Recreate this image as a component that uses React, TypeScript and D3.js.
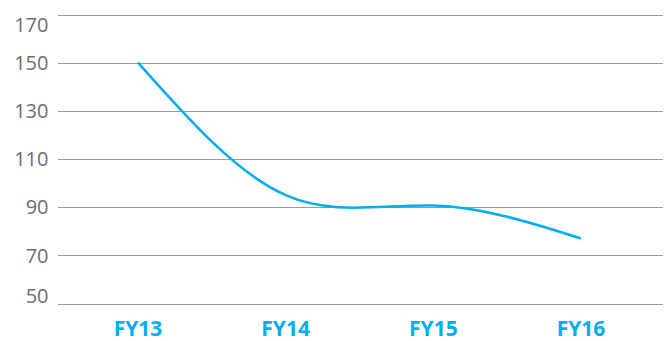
import React from "react";
import * as d3 from "d3";

const categories = ["FY13", "FY14", "FY15", "FY16"];
const values = [150, 95, 90.7, 77];
const yTicks = [50, 70, 90, 110, 130, 150, 170];

const W = 670;
const H = 341;
const left = 58;
const right = 663;
const yTop = 14.5;
const yBottom = 303.5;

export default function App() {
  const x = d3
    .scalePoint<string>()
    .domain(categories)
    .range([138, 581]);
  const y = d3.scaleLinear().domain([50, 170]).range([yBottom, yTop]);

  const line = d3
    .line<number>()
    .x((_, i) => x(categories[i]) as number)
    .y((d) => y(d))
    .curve(d3.curveNatural);

  // tick labels are kept inside the plot's vertical extent
  const labelY = (t: number) => Math.min(296, Math.max(24.5, y(t)));

  return (
    <svg
      width={W}
      height={H}
      style={{ position: "absolute", left: 0, top: 0 }}
      fontFamily="'Open Sans', 'Noto Sans', sans-serif"
    >
      <rect width={W} height={H} fill="#fff" />
      {yTicks.map((t) => (
        <g key={t}>
          <line
            x1={left}
            x2={right}
            y1={Math.round(y(t)) + 0.5}
            y2={Math.round(y(t)) + 0.5}
            stroke="#9a9a9a"
            strokeWidth={1}
          />
          <text
            x={48.5}
            y={labelY(t) + 7.2}
            textAnchor="end"
            fontSize={20}
            fill="#6e6e6e"
          >
            {t}
          </text>
        </g>
      ))}
      <path
        d={line(values) || ""}
        fill="none"
        stroke="#00aeef"
        strokeWidth={2.5}
        strokeLinecap="butt"
      />
      {categories.map((c) => (
        <text
          key={c}
          x={x(c)}
          y={335.5}
          textAnchor="middle"
          fontSize={21}
          fontWeight="bold"
          fill="#00aeef"
        >
          {c}
        </text>
      ))}
    </svg>
  );
}
